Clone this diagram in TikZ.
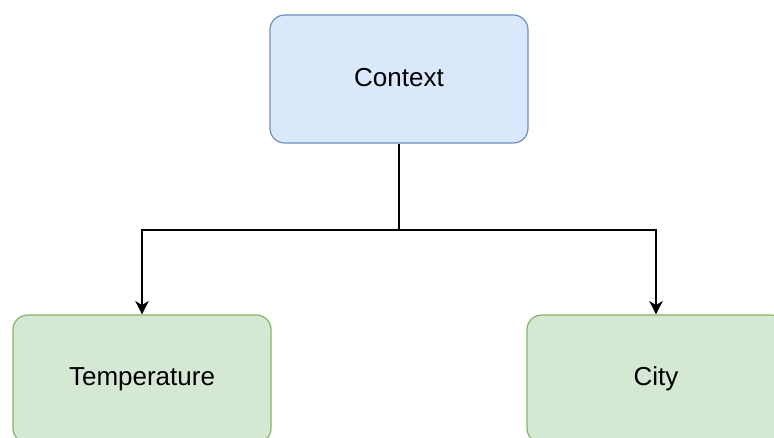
\documentclass[tikz,border=0pt]{standalone}
\usepackage{fontspec}
\setmainfont{Liberation Sans}
\usetikzlibrary{arrows.meta}
\definecolor{ctxfill}{HTML}{DAE8FC}
\definecolor{ctxline}{HTML}{6C8EBF}
\definecolor{leaffill}{HTML}{D5E8D4}
\definecolor{leafline}{HTML}{82B366}
\tikzset{
  box/.style={rounded corners=11pt, minimum width=193.5pt, minimum height=96pt,
    inner sep=0pt, line width=0.9pt, font=\fontsize{19.5}{23}\selectfont},
  ctxbox/.style={box, draw=ctxline, fill=ctxfill},
  leafbox/.style={box, draw=leafline, fill=leaffill},
  link/.style={line width=1.5pt, -{Stealth[length=10pt, width=10pt, inset=3pt]}}
}
\begin{document}
\begin{tikzpicture}[x=0.75pt, y=-0.75pt]
  \useasboundingbox (0,0) rectangle (774,437);
  \clip (0,0) rectangle (774,437);
  \node[ctxbox]  (ctx)  at (399,79)  {\raisebox{2pt}{Context}};
  \node[leafbox] (temp) at (142,379) {Temperature};
  \node[leafbox] (city) at (656,379) {City};
  \coordinate (split) at (399,230);
  \draw[line width=1.5pt] (ctx.south) -- (split);
  \draw[link] (split) -| (temp.north);
  \draw[link] (split) -| (city.north);
\end{tikzpicture}
\end{document}
